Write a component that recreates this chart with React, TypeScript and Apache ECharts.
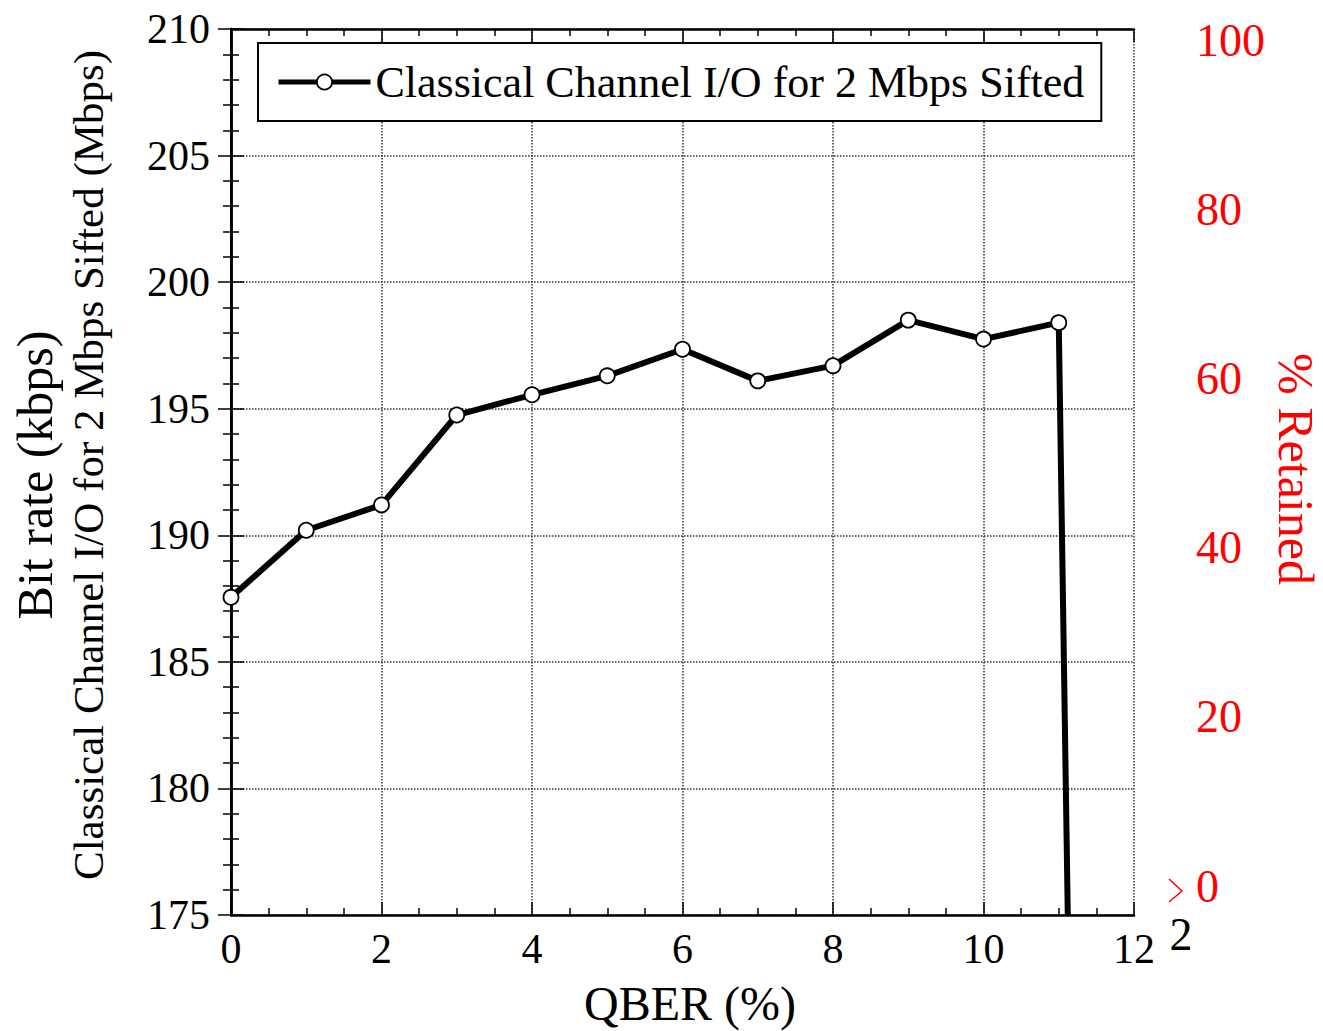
import React, { useEffect, useRef } from "react";
import * as echarts from "echarts";

const qber = [0, 1, 2, 3, 4, 5, 6, 7, 8, 9, 10, 11, 11.12];
const bitRate = [187.55, 190.2, 191.2, 194.75, 195.55, 196.3, 197.35, 196.1, 196.7, 198.5, 197.75, 198.4, 175];
const seriesName = "Classical Channel I/O for 2 Mbps Sifted";
const leftTitle1 = "Bit rate (kbps)";
const leftTitle2 = "Classical Channel I/O for 2 Mbps Sifted (Mbps)";
const xTitle = "QBER (%)";
const rightTitle = "% Retained";

const FONT = "'Liberation Serif', 'Times New Roman', serif";

export default function App() {
  const ref = useRef<HTMLDivElement>(null);
  useEffect(() => {
    if (!ref.current) return;
    const chart = echarts.init(ref.current, undefined, { renderer: "svg" });
    const data = qber.map((x, i) =>
      i === qber.length - 1
        ? { value: [x, bitRate[i]], symbol: "none" }
        : { value: [x, bitRate[i]] }
    );
    const frameAxisLine = { show: true, lineStyle: { color: "#000", width: 2.5 } };
    const grid0 = { left: 231, top: 29, right: 189, bottom: 116 };
    const gridLine = { show: true, lineStyle: { color: "#333", type: "dotted", width: 1.5 } };
    chart.setOption({
      animation: false,
      textStyle: { fontFamily: FONT },
      grid: [
        grid0,
        { left: 231, top: 40, right: 153, bottom: 145 },
      ],
      legend: {
        left: 258,
        top: 43,
        padding: [17, 17, 17, 18],
        borderColor: "#000",
        borderWidth: 2,
        backgroundColor: "#fff",
        itemWidth: 92,
        itemHeight: 19,
        lineStyle: { width: 5, color: "#000" },
        itemStyle: { color: "#fff", borderColor: "#000", borderWidth: 1.8 },
        textStyle: { fontFamily: FONT, fontSize: 44, color: "#000" },
        data: [seriesName],
      },
      xAxis: [
        {
          type: "value",
          gridIndex: 0,
          min: 0,
          max: 12,
          interval: 2,
          position: "bottom",
          axisLine: frameAxisLine,
          axisTick: { show: true, inside: true, length: 13, lineStyle: { color: "#000", width: 1.5 } },
          minorTick: { show: true, splitNumber: 4, length: 7, lineStyle: { color: "#000", width: 1.5 } },
          splitLine: gridLine,
          axisLabel: { fontFamily: FONT, fontSize: 42, color: "#000", margin: 13 },
        },
        {
          type: "value",
          gridIndex: 0,
          min: 0,
          max: 12,
          interval: 2,
          position: "top",
          axisLine: frameAxisLine,
          axisTick: { show: true, inside: true, length: 13, lineStyle: { color: "#000", width: 1.5 } },
          minorTick: { show: true, splitNumber: 4, length: 7, lineStyle: { color: "#000", width: 1.5 } },
          splitLine: { show: false },
          axisLabel: { show: false },
        },
        {
          type: "value",
          gridIndex: 1,
          min: 0,
          max: 12,
          show: false,
        },
      ],
      yAxis: [
        {
          type: "value",
          gridIndex: 0,
          min: 175,
          max: 210,
          interval: 5,
          position: "left",
          axisLine: frameAxisLine,
          axisTick: { show: true, inside: true, length: 13, lineStyle: { color: "#000", width: 1.5 } },
          minorTick: { show: true, splitNumber: 5, length: 8, lineStyle: { color: "#000", width: 1.5 } },
          splitLine: gridLine,
          axisLabel: { fontFamily: FONT, fontSize: 42, color: "#000", margin: 21 },
        },
        {
          type: "value",
          gridIndex: 0,
          min: 175,
          max: 210,
          interval: 5,
          position: "right",
          axisLine: frameAxisLine,
          axisTick: { show: true, inside: true, length: 13, lineStyle: { color: "#000", width: 1.5 } },
          minorTick: { show: true, splitNumber: 5, length: 8, lineStyle: { color: "#000", width: 1.5 } },
          splitLine: { show: false },
          axisLabel: { show: false },
        },
        {
          type: "value",
          gridIndex: 1,
          min: 0,
          max: 100,
          interval: 20,
          position: "right",
          axisLine: { show: true, lineStyle: { color: "#000", width: 1.5 } },
          axisTick: { show: false },
          splitLine: { show: false },
          axisLabel: { fontFamily: FONT, fontSize: 46, color: "#ff0000", margin: 26 },
        },
      ],
      series: [
        {
          name: seriesName,
          type: "line",
          xAxisIndex: 0,
          yAxisIndex: 0,
          data,
          clip: true,
          symbol: "circle",
          symbolSize: 15,
          showAllSymbol: true,
          lineStyle: { color: "#000", width: 6 },
          itemStyle: { color: "#fff", borderColor: "#000", borderWidth: 1.8 },
          z: 5,
        },
      ],
      graphic: [
        {
          type: "text",
          x: 35,
          y: 475,
          rotation: Math.PI / 2,
          style: { text: leftTitle1, fontFamily: FONT, fontSize: 50, fill: "#000", align: "center", verticalAlign: "middle" },
        },
        {
          type: "text",
          x: 88,
          y: 465,
          rotation: Math.PI / 2,
          style: { text: leftTitle2, fontFamily: FONT, fontSize: 43, fill: "#000", align: "center", verticalAlign: "middle" },
        },
        {
          type: "text",
          x: 690,
          y: 1003,
          style: { text: xTitle, fontFamily: FONT, fontSize: 48, fill: "#000", align: "center", verticalAlign: "middle" },
        },
        {
          type: "text",
          x: 1296,
          y: 469,
          rotation: -Math.PI / 2,
          style: { text: rightTitle, fontFamily: FONT, fontSize: 50, fill: "#ff0000", align: "center", verticalAlign: "middle" },
        },
        {
          type: "polyline",
          shape: { points: [[1169, 879], [1182, 891], [1169, 902]] },
          style: { stroke: "#ff0000", lineWidth: 1.5, fill: "none" },
        },
        {
          type: "text",
          x: 1181,
          y: 934,
          style: { text: "2", fontFamily: FONT, fontSize: 46, fill: "#000", align: "center", verticalAlign: "middle" },
        },
      ],
    });
    return () => chart.dispose();
  }, []);
  return (
    <div
      ref={ref}
      style={{ position: "absolute", left: 0, top: 0, width: 1323, height: 1031, background: "#fff" }}
    />
  );
}
